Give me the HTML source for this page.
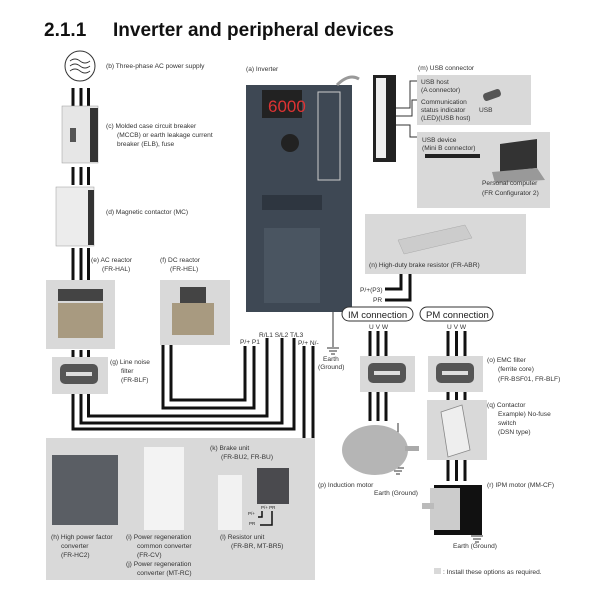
<!DOCTYPE html>
<html><head><meta charset="utf-8"><style>
body{margin:0;background:#fff}
svg{display:block;font-family:"Liberation Sans",sans-serif}
.t{font-size:6.6px;fill:#333}
</style></head><body>
<svg width="600" height="600" viewBox="0 0 600 600" xmlns="http://www.w3.org/2000/svg">
<text x="44" y="36" font-size="19" font-weight="bold" fill="#111">2.1.1</text>
<text x="113" y="36" font-size="19" font-weight="bold" fill="#111">Inverter and peripheral devices</text>

<g fill="#d9d9d9">
<rect x="46" y="280" width="69" height="69"/>
<rect x="160" y="280" width="70" height="65"/>
<rect x="52" y="357" width="56" height="37"/>
<rect x="417" y="75" width="114" height="50"/>
<rect x="417" y="132" width="133" height="76"/>
<rect x="365" y="214" width="161" height="60"/>
<rect x="360" y="356" width="55" height="36"/>
<rect x="428" y="356" width="55" height="36"/>
<rect x="427" y="400" width="60" height="60"/>
<rect x="46" y="438" width="269" height="142"/>
<rect x="434" y="568" width="7" height="6"/>
</g>

<circle cx="80" cy="66" r="15" fill="#fff" stroke="#333" stroke-width="1"/>
<path d="M70 61 q5 -4 10 0 t10 0 M70 66 q5 -4 10 0 t10 0 M70 71 q5 -4 10 0 t10 0" fill="none" stroke="#333" stroke-width="0.9"/>

<g stroke="#111" stroke-width="3" fill="none">
<path d="M73 88V106M81 88V106M88.5 88V106"/>
<path d="M73 167V185M81 167V185M88.5 167V185"/>
<path d="M73 248V280M81 248V280M88.5 248V280"/>
<path d="M73 350V357M81 350V357M88.5 350V357"/>
<path d="M73 394V429H294V338"/>
<path d="M81 394V423H282V338"/>
<path d="M88.5 394V416H267V338"/>
<path d="M163 345V408H254V346"/>
<path d="M171 345V400H245V346"/>
<path d="M304 346V438M313 346V438"/>
<path d="M370 331V356M378 331V356M386 331V356M370 392V421M378 392V421M386 392V421"/>
<path d="M448 331V356M456.5 331V356M465 331V356M448 392V400M456.5 392V400M465 392V400M448 460V481M456.5 460V481M465 460V481"/>
<path d="M410 274V300H385M401 274V289H385"/>
</g>
<g stroke="#333" stroke-width="1" fill="none">
<path d="M333 312V347M327 348H339M329 351H337M331 354H335"/>
<path d="M398 423V468M392 468H404M394 471H402M396 474H400"/>
<path d="M477 520V535M471 536H483M473 539H481M475 542H479"/>
<path d="M386 108H410V81H417M386 116H412V100H417M386 125H410V137H417"/>
</g>

<rect x="62" y="106" width="36" height="57" fill="#e6e6e6" stroke="#999" stroke-width="0.5"/>
<rect x="90" y="108" width="8" height="54" fill="#333"/>
<rect x="70" y="128" width="6" height="14" fill="#555"/>
<rect x="56" y="187" width="38" height="59" fill="#ececec" stroke="#999" stroke-width="0.5"/>
<rect x="88" y="190" width="6" height="55" fill="#333"/>
<rect x="58" y="289" width="45" height="12" fill="#444"/>
<rect x="58" y="303" width="45" height="35" fill="#a89a80"/>
<rect x="180" y="287" width="26" height="16" fill="#444"/>
<rect x="172" y="303" width="42" height="32" fill="#a89a80"/>
<g fill="#555"><rect x="60" y="364" width="38" height="20" rx="5"/><rect x="368" y="363" width="38" height="20" rx="5"/><rect x="436" y="363" width="38" height="20" rx="5"/></g>
<g fill="#ddd"><rect x="66" y="372" width="26" height="4"/><rect x="374" y="371" width="26" height="4"/><rect x="442" y="371" width="26" height="4"/></g>

<rect x="246" y="85" width="106" height="227" fill="#3e4854"/>
<rect x="262" y="90" width="40" height="28" fill="#222"/>
<text x="268" y="112" font-size="17" fill="#d33">6000</text>
<circle cx="290" cy="143" r="9" fill="#222"/>
<rect x="318" y="92" width="22" height="88" fill="none" stroke="#ccc" stroke-width="1"/>
<rect x="262" y="195" width="60" height="15" fill="#2e3640"/>
<rect x="264" y="228" width="56" height="75" fill="#4a5561"/>
<path d="M337 85 q12 -12 22 -6" fill="none" stroke="#999" stroke-width="3"/>
<rect x="373" y="75" width="23" height="87" fill="#222"/>
<rect x="376" y="78" width="10" height="80" fill="#eee"/>
<rect x="483" y="91" width="18" height="8" rx="3" fill="#555" transform="rotate(-20 492 95)"/>
<path d="M500 144L537 139L537 168L500 172Z" fill="#333"/><path d="M492 172L537 168L545 180L495 183Z" fill="#999"/>
<rect x="425" y="154" width="55" height="4" fill="#222"/>
<path d="M398 240L465 225L472 238L404 254Z" fill="#ccc" stroke="#aaa" stroke-width="0.5"/>
<rect x="342" y="307" width="71" height="14" rx="7" fill="#fff" stroke="#333" stroke-width="1"/>
<rect x="420" y="307" width="73" height="14" rx="7" fill="#fff" stroke="#333" stroke-width="1"/>
<text x="348" y="318" font-size="9.5" fill="#222">IM connection</text>
<text x="426" y="318" font-size="9.5" fill="#222">PM connection</text>
<path d="M441 412L462 405L470 450L448 457Z" fill="#eee" stroke="#888" stroke-width="0.8"/>
<ellipse cx="375" cy="450" rx="33" ry="25" fill="#b5b5b5"/>
<rect x="405" y="446" width="14" height="5" fill="#aaa"/>
<rect x="434" y="485" width="48" height="50" fill="#111"/>
<rect x="430" y="488" width="30" height="42" fill="#ccc"/>
<rect x="422" y="503" width="12" height="6" fill="#bbb"/>
<rect x="52" y="455" width="66" height="70" fill="#5a5e64"/>
<rect x="144" y="447" width="40" height="83" fill="#f3f3f3"/>
<rect x="218" y="475" width="24" height="55" fill="#f2f2f2"/>
<rect x="257" y="468" width="32" height="36" fill="#4a4a4e"/>
<g stroke="#111" stroke-width="1.5" fill="none"><path d="M262 511V517H258M272 511V525H260"/></g>

<g class="t">
<text x="106" y="68">(b) Three-phase AC power supply</text>
<text x="246" y="71">(a) Inverter</text>
<text x="418" y="70">(m) USB connector</text>
<text x="421" y="84">USB host</text><text x="421" y="92">(A connector)</text>
<text x="421" y="104">Communication</text><text x="421" y="112">status indicator</text><text x="421" y="120">(LED)(USB host)</text>
<text x="479" y="112">USB</text>
<text x="422" y="142">USB device</text><text x="422" y="150">(Mini B connector)</text>
<text x="482" y="185">Personal computer</text><text x="482" y="195">(FR Configurator 2)</text>
<text x="106" y="128">(c) Molded case circuit breaker</text><text x="117" y="137">(MCCB) or earth leakage current</text><text x="117" y="146">breaker (ELB), fuse</text>
<text x="106" y="214">(d) Magnetic contactor (MC)</text>
<text x="91" y="262">(e) AC reactor</text><text x="102" y="271">(FR-HAL)</text>
<text x="160" y="262">(f) DC reactor</text><text x="170" y="271">(FR-HEL)</text>
<text x="369" y="267">(n) High-duty brake resistor (FR-ABR)</text>
<text x="360" y="292">P/+(P3)</text><text x="373" y="302">PR</text>
<text x="369" y="329">U V W</text><text x="447" y="329">U V W</text>
<text x="259" y="337">R/L1 S/L2 T/L3</text>
<text x="240" y="344">P/+ P1</text><text x="298" y="345">P/+ N/-</text>
<text x="323" y="361">Earth</text><text x="318" y="369">(Ground)</text>
<text x="110" y="364">(g) Line noise</text><text x="121" y="373">filter</text><text x="121" y="382">(FR-BLF)</text>
<text x="487" y="362">(o) EMC filter</text><text x="498" y="371">(ferrite core)</text><text x="498" y="381">(FR-BSF01, FR-BLF)</text>
<text x="487" y="407">(q) Contactor</text><text x="498" y="416">Example) No-fuse</text><text x="498" y="425">switch</text><text x="498" y="434">(DSN type)</text>
<text x="318" y="487">(p) Induction motor</text><text x="374" y="495">Earth (Ground)</text>
<text x="487" y="487">(r) IPM motor (MM-CF)</text>
<text x="453" y="548">Earth (Ground)</text>
<text x="210" y="450">(k) Brake unit</text><text x="221" y="459">(FR-BU2, FR-BU)</text>
<text x="51" y="539">(h) High power factor</text><text x="61" y="548">converter</text><text x="61" y="557">(FR-HC2)</text>
<text x="126" y="539">(i) Power regeneration</text><text x="137" y="548">common converter</text><text x="137" y="557">(FR-CV)</text>
<text x="126" y="566">(j) Power regeneration</text><text x="137" y="575">converter (MT-RC)</text>
<text x="220" y="539">(l) Resistor unit</text><text x="231" y="548">(FR-BR, MT-BR5)</text>
<text x="443" y="574">: Install these options as required.</text>
</g>
<g font-size="4.5" fill="#222"><text x="261" y="509">P/+ PR</text><text x="248" y="515">P/+</text><text x="249" y="525">PR</text></g>
</svg>
</body></html>
